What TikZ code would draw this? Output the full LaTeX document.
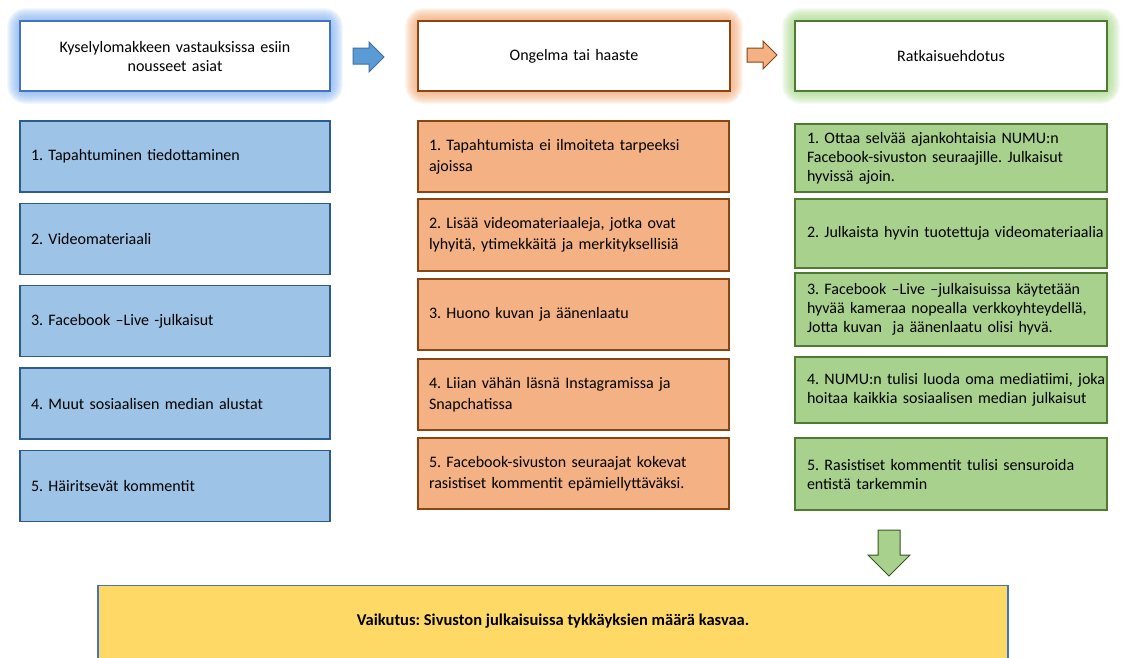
\documentclass[tikz,border=0pt]{standalone}
\usepackage{fontspec}
\setmainfont{Carlito}
\frenchspacing
\definecolor{bfill}{HTML}{9DC3E6}
\definecolor{bdraw}{HTML}{2E5C8A}
\definecolor{ofill}{HTML}{F4B183}
\definecolor{odraw}{HTML}{8B4513}
\definecolor{gfill}{HTML}{A9D18E}
\definecolor{gdraw}{HTML}{4F7A32}
\definecolor{yfill}{HTML}{FFD966}
\definecolor{ydraw}{HTML}{4472C4}
\definecolor{bglow}{HTML}{7FB2F0}
\definecolor{oglow}{HTML}{F7A56B}
\definecolor{gglow}{HTML}{A6DB86}
\definecolor{hblue}{HTML}{4472C4}
\definecolor{barrow}{HTML}{5B9BD5}
\definecolor{barrowd}{HTML}{41719C}
\definecolor{garrowd}{HTML}{385723}
\tikzset{
  box/.style={rectangle, draw, line width=1.2pt, inner xsep=11pt, inner ysep=0pt,
    align=left, font=\fontsize{16}{19}\selectfont, anchor=center},
  bluebox/.style={box, fill=bfill, draw=bdraw, minimum width=310pt, text width=288pt, minimum height=71pt},
  orangebox/.style={box, fill=ofill, draw=odraw, minimum width=311pt, text width=289pt, font=\fontsize{16}{21}\selectfont},
  greenbox/.style={box, fill=gfill, draw=gdraw, minimum width=312pt, text width=288pt, inner xsep=12pt},
  header/.style={rectangle, fill=white, line width=1.2pt, minimum width=310pt, minimum height=70pt,
    align=center, text width=290pt, font=\fontsize{16}{19}\selectfont, inner sep=0pt},
}
\newcommand{\glowrect}[5]{%
  \foreach \w in {2,4,...,26}{%
    \draw[#5, opacity=0.09, line width=\w pt, rounded corners=6pt] (#1,#2) rectangle (#3,#4);
  }%
}
\begin{document}
\begin{tikzpicture}[x=1pt,y=-1pt]
\useasboundingbox (0,0) rectangle (1125,657);
\fill[white] (0,0) rectangle (1125,657);
% glows
\glowrect{20}{21}{330}{91}{bglow}
\glowrect{418}{21}{730}{91}{oglow}
\glowrect{795}{21}{1107}{91}{gglow}
% headers
\node[header, draw=hblue] (h1) at (175,56) {Kyselylomakkeen vastauksissa esiin\\nousseet asiat};
\node[header, draw=odraw, minimum width=312pt] (h2) at (574,56) {Ongelma tai haaste};
\node[header, draw=gdraw, minimum width=312pt] (h3) at (951,56) {Ratkaisuehdotus};
% arrows between headers
\draw[fill=barrow, draw=barrowd, line width=1pt] (353,48) -- (369,48) -- (369,42) -- (384,57) -- (369,72) -- (369,64) -- (353,64) -- cycle;
\draw[fill=ofill, draw=odraw, line width=1pt] (747,48) -- (763,48) -- (763,41) -- (777,55) -- (763,69) -- (763,62) -- (747,62) -- cycle;
% blue column
\node[bluebox] (b1) at (175,156.5) {1. Tapahtuminen tiedottaminen};
\node[bluebox] (b2) at (175,239) {2. Videomateriaali};
\node[bluebox] (b3) at (175,321) {3. Facebook –Live -julkaisut};
\node[bluebox] (b4) at (175,403.5) {4. Muut sosiaalisen median alustat};
\node[bluebox] (b5) at (175,486) {5. Häiritsevät kommentit};
% orange column
\node[orangebox, minimum height=71pt] (o1) at (573.5,156.5) {1. Tapahtumista ei ilmoiteta tarpeeksi\\ajoissa};
\node[orangebox, minimum height=72pt] (o2) at (573.5,235) {2. Lisää videomateriaaleja, jotka ovat\\lyhyitä, ytimekkäitä ja merkityksellisiä};
\node[orangebox, minimum height=71pt] (o3) at (573.5,314.5) {3. Huono kuvan ja äänenlaatu};
\node[orangebox, minimum height=71pt] (o4) at (573.5,394.5) {4. Liian vähän läsnä Instagramissa ja\\Snapchatissa};
\node[orangebox, minimum height=71pt] (o5) at (573.5,473.5) {5. Facebook-sivuston seuraajat kokevat\\rasistiset kommentit epämiellyttäväksi.};
% green column
\node[greenbox, minimum height=68pt] (g1) at (951,158) {\mbox{1. Ottaa selvää ajankohtaisia NUMU:n}\\\mbox{Facebook-sivuston seuraajille. Julkaisut}\\\mbox{hyvissä ajoin.}};
\node[greenbox, minimum height=69pt] (g2) at (951,233.5) {\mbox{2. Julkaista hyvin tuotettuja videomateriaalia}};
\node[greenbox, minimum height=73pt] (g3) at (951,309.5) {\mbox{3. Facebook –Live –julkaisuissa käytetään}\\\mbox{hyvää kameraa nopealla verkkoyhteydellä,}\\\mbox{Jotta kuvan\ \ ja äänenlaatu olisi hyvä.}};
\node[greenbox, minimum height=66pt] (g4) at (951,390) {\mbox{4. NUMU:n tulisi luoda oma mediatiimi, joka}\\\mbox{hoitaa kaikkia sosiaalisen median julkaisut}};
\node[greenbox, minimum height=72pt] (g5) at (951,474) {\mbox{5. Rasistiset kommentit tulisi sensuroida}\\\mbox{entistä tarkemmin}};
% down arrow
\draw[fill=gfill, draw=garrowd, line width=1pt] (878,530) -- (900,530) -- (900,555) -- (910,555) -- (889,576) -- (868,555) -- (878,555) -- cycle;
% bottom box
\node[rectangle, fill=yfill, draw=ydraw, line width=1.2pt, minimum width=910pt, minimum height=90pt,
  inner sep=0pt, anchor=north] (v) at (553,585) {};
\node[font=\fontsize{16.5}{19}\selectfont\bfseries, inner sep=0pt] (vt) at (553,621) {Vaikutus: Sivuston julkaisuissa tykkäyksien määrä kasvaa.};
\end{tikzpicture}
\end{document}
